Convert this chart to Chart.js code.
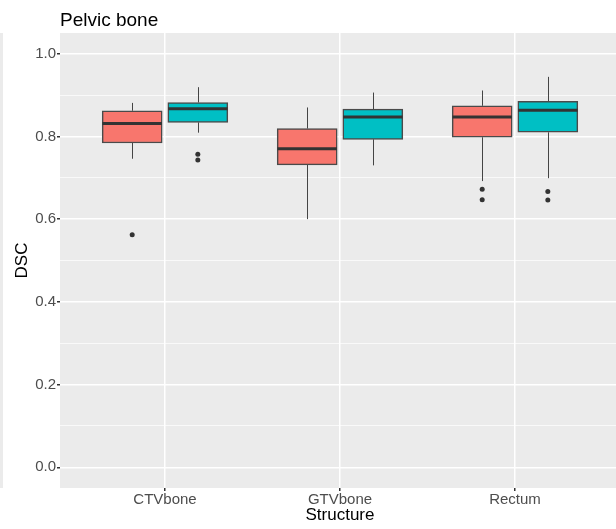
<!DOCTYPE html>
<html>
<head>
<meta charset="utf-8">
<script src="https://cdn.jsdelivr.net/npm/chart.js@4"></script>
<style>
  html, body { margin: 0; padding: 0; background: #fff; overflow: hidden; }
  #wrap { position: relative; width: 624px; height: 529px; }
  #edge { position: absolute; left: 0; top: 33px; width: 3px; height: 455px; background: #ebebeb; }
</style>
</head>
<body>
<div id="wrap">
  <canvas id="chart"></canvas>
  <div id="edge"></div>
</div>
<script>
// categories and y ticks
const structures = ["CTVbone", "GTVbone", "Rectum"];
const yTicks = [0, 0.1, 0.2, 0.3, 0.4, 0.5, 0.6, 0.7, 0.8, 0.9, 1.0];

// box stats per structure: whisker low, q1, median, q3, whisker high
const redLow = [0.746, 0.600, 0.692];
const redQ1 = [0.784, 0.731, 0.798];
const redMed = [0.831, 0.770, 0.847];
const redQ3 = [0.862, 0.819, 0.874];
const redHigh = [0.881, 0.870, 0.911];
const redOutliers = [[0.5625], [], [0.672, 0.647]];

const tealLow = [0.809, 0.730, 0.699];
const tealQ1 = [0.834, 0.793, 0.810];
const tealMed = [0.867, 0.847, 0.863];
const tealQ3 = [0.882, 0.866, 0.885];
const tealHigh = [0.919, 0.906, 0.944];
const tealOutliers = [[0.757, 0.743], [], [0.667, 0.646]];

const RED = "#F8766D";
const TEAL = "#00BFC4";
const DODGE = 0.1875;
const BOX_W = 0.34; // in category units
const FONT = "'Liberation Sans', Arial, sans-serif";

function boxData(q1, q3, shift) {
  return structures.map((s, i) => ({ x: i + 1 + shift, y: [q1[i], q3[i]] }));
}

function outlierData(outs, shift) {
  const pts = [];
  outs.forEach((list, i) => list.forEach(v => pts.push({ x: i + 1 + shift, y: v })));
  return pts;
}

const groups = [
  { shift: -DODGE, low: redLow, q1: redQ1, med: redMed, q3: redQ3, high: redHigh },
  { shift: DODGE, low: tealLow, q1: tealQ1, med: tealMed, q3: tealQ3, high: tealHigh },
];

const isMajor = v => Math.round(v * 10) % 2 === 0;

// panel background, whiskers, medians, title
const boxPlugin = {
  id: "boxPlugin",
  beforeDraw(chart) {
    const { ctx, chartArea: a } = chart;
    ctx.save();
    ctx.fillStyle = "#ebebeb";
    ctx.fillRect(a.left, a.top, a.right - a.left, a.bottom - a.top);
    ctx.restore();
  },
  beforeDatasetsDraw(chart) {
    const { ctx, scales: { x, y } } = chart;
    ctx.save();
    ctx.strokeStyle = "#444444";
    ctx.lineWidth = 1;
    groups.forEach(g => {
      structures.forEach((s, i) => {
        const px = Math.round(x.getPixelForValue(i + 1 + g.shift)) + 0.5;
        ctx.beginPath();
        ctx.moveTo(px, y.getPixelForValue(g.high[i]));
        ctx.lineTo(px, y.getPixelForValue(g.q3[i]));
        ctx.moveTo(px, y.getPixelForValue(g.q1[i]));
        ctx.lineTo(px, y.getPixelForValue(g.low[i]));
        ctx.stroke();
      });
    });
    ctx.restore();
  },
  afterDatasetsDraw(chart) {
    const { ctx, scales: { x, y } } = chart;
    ctx.save();
    ctx.strokeStyle = "#333333";
    ctx.lineWidth = 3;
    groups.forEach(g => {
      structures.forEach((s, i) => {
        const x0 = x.getPixelForValue(i + 1 + g.shift - BOX_W / 2);
        const x1 = x.getPixelForValue(i + 1 + g.shift + BOX_W / 2);
        const py = y.getPixelForValue(g.med[i]);
        ctx.beginPath();
        ctx.moveTo(x0, py);
        ctx.lineTo(x1, py);
        ctx.stroke();
      });
    });
    ctx.restore();
  },
  afterDraw(chart) {
    const { ctx, chartArea: a } = chart;
    ctx.save();
    ctx.fillStyle = "#000";
    ctx.font = "19px " + FONT;
    ctx.textBaseline = "alphabetic";
    ctx.fillText("Pelvic bone", a.left, 26);
    ctx.restore();
  },
};

const ctx = document.getElementById("chart").getContext("2d");
const chart = new Chart(ctx, {
  data: {
    datasets: [
      {
        type: "bar",
        label: "red",
        data: boxData(redQ1, redQ3, -DODGE),
        backgroundColor: RED,
        borderColor: "#4a4a4a",
        borderWidth: 1.5,
        borderSkipped: false,
        grouped: false,
        barThickness: 60,
      },
      {
        type: "bar",
        label: "teal",
        data: boxData(tealQ1, tealQ3, DODGE),
        backgroundColor: TEAL,
        borderColor: "#4a4a4a",
        borderWidth: 1.5,
        borderSkipped: false,
        grouped: false,
        barThickness: 60,
      },
      {
        type: "scatter",
        label: "redOut",
        data: outlierData(redOutliers, -DODGE),
        backgroundColor: "#333333",
        borderWidth: 0,
        pointRadius: 2.5,
      },
      {
        type: "scatter",
        label: "tealOut",
        data: outlierData(tealOutliers, DODGE),
        backgroundColor: "#333333",
        borderWidth: 0,
        pointRadius: 2.5,
      },
    ],
  },
  options: {
    responsive: true,
    maintainAspectRatio: false,
    animation: false,
    layout: { padding: { top: 33, right: 0, left: 0, bottom: 0 } },
    plugins: {
      legend: { display: false },
      tooltip: { enabled: false },
      title: { display: false },
    },
    scales: {
      x: {
        type: "linear",
        min: 0.4,
        max: 3.6,
        offset: false,
        afterBuildTicks: scale => {
          scale.ticks = structures.map((s, i) => ({ value: i + 1 }));
        },
        afterFit: scale => {
          scale.height = 41;
        },
        ticks: {
          callback: v => structures[v - 1],
          color: "#4d4d4d",
          font: { family: FONT, size: 15 },
          padding: 0,
          maxRotation: 0,
          autoSkip: false,
        },
        grid: {
          offset: false,
          color: "#ffffff",
          lineWidth: 1.5,
          tickColor: "#333333",
          tickLength: 3,
        },
        border: { display: false },
        title: {
          display: true,
          text: "Structure",
          color: "#000",
          font: { family: FONT, size: 17 },
          padding: { top: 0, bottom: 3 },
        },
      },
      y: {
        type: "linear",
        min: -0.05,
        max: 1.05,
        afterBuildTicks: scale => {
          scale.ticks = yTicks.map(v => ({ value: v }));
        },
        afterFit: scale => {
          scale.width = 60;
        },
        ticks: {
          callback: v => (isMajor(v) ? v.toFixed(1) : ""),
          color: "#4d4d4d",
          font: { family: FONT, size: 15 },
          padding: 1,
        },
        grid: {
          color: "#ffffff",
          lineWidth: c => (isMajor(c.tick.value) ? 1.5 : 0.7),
          tickColor: c => (isMajor(c.tick.value) ? "#333333" : "rgba(0,0,0,0)"),
          tickLength: 3,
        },
        border: { display: false },
        title: {
          display: true,
          text: "DSC",
          color: "#000",
          font: { family: FONT, size: 17 },
          padding: { top: 12, bottom: 0 },
        },
      },
    },
  },
  plugins: [boxPlugin],
});
</script>
</body>
</html>
